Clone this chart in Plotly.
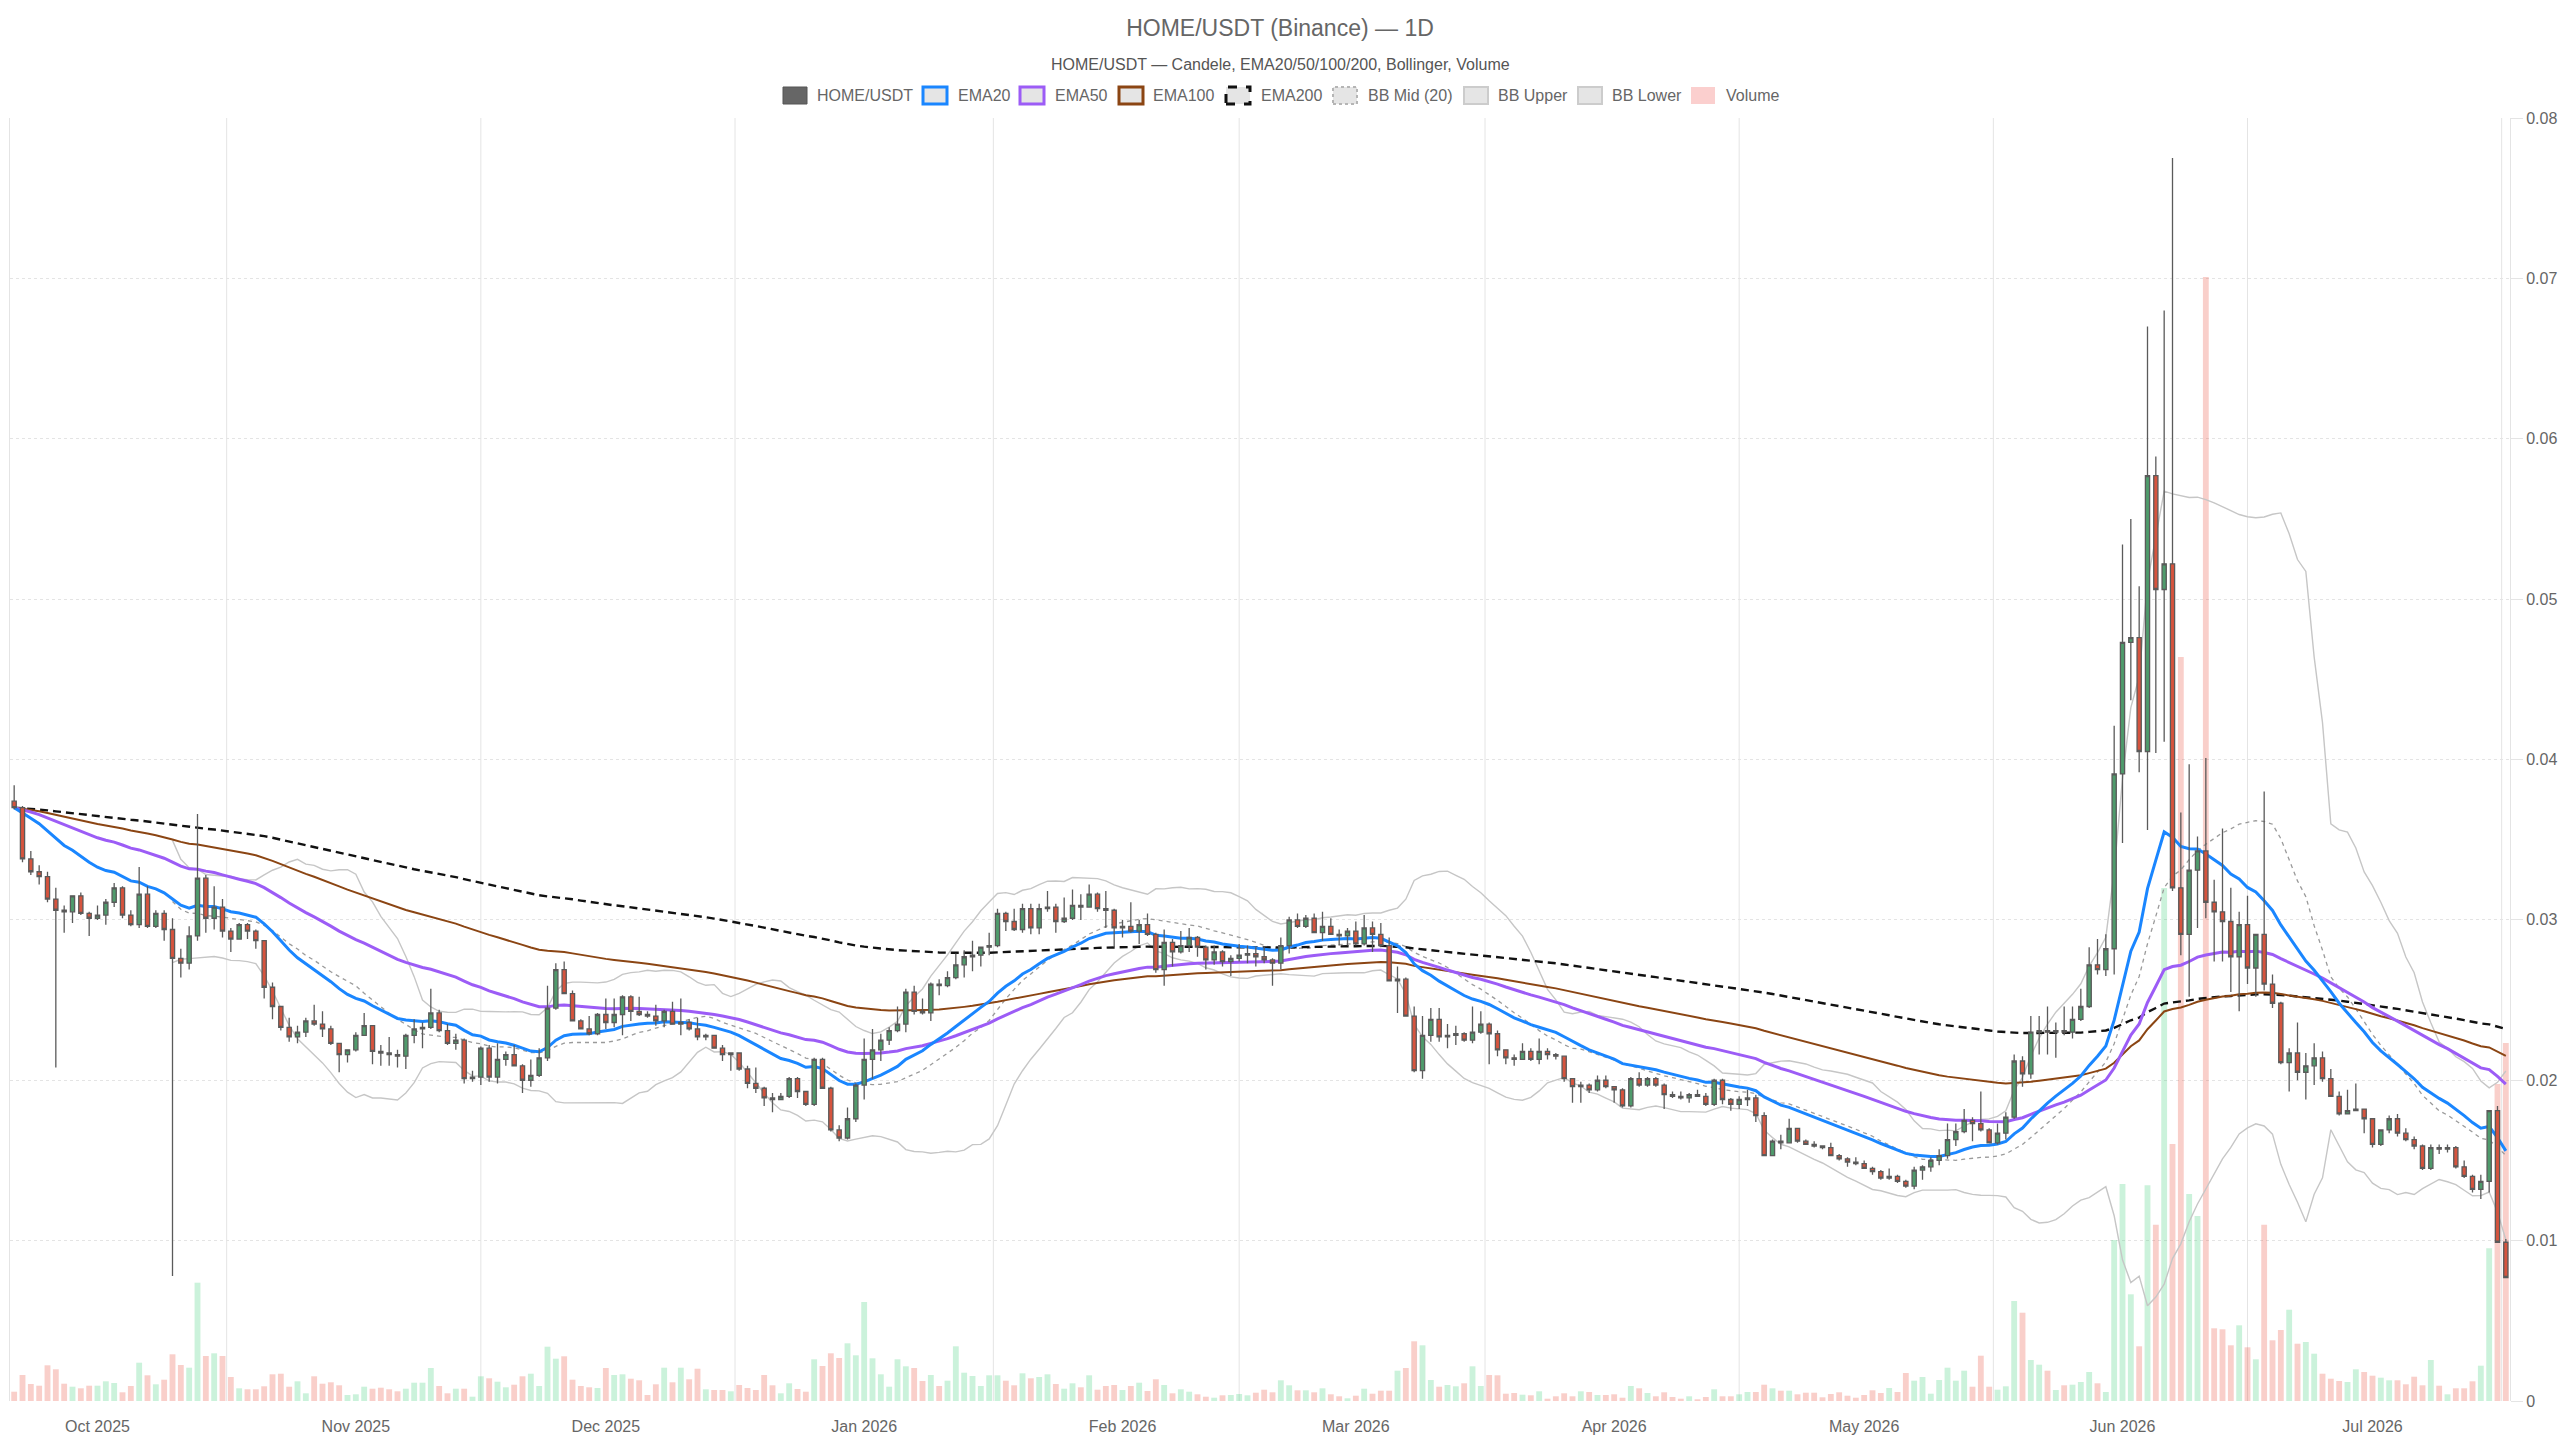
import pandas as pd
import plotly.graph_objects as go

# ---------------- data (daily candles) ----------------
START = "2025-09-21"

OPEN = [
    .0374, .0370, .0338, .0330, .0327, .0313, .0306, .0305, .0315, .0304,
    .0301, .0303, .0311, .0320, .0303, .0297, .0316, .0296, .0304, .0294,
    .0276, .0273, .0290, .0326, .0301, .0308, .0293, .0288, .0297, .0293,
    .0287, .0258, .0246, .0233, .0227, .0230, .0237, .0235, .0232, .0223,
    .0216, .0219, .0228, .0234, .0218, .0217, .0216, .0215, .0228, .0232,
    .0233, .0242, .0231, .0223, .0225, .0201, .0202, .0220, .0202, .0213,
    .0216, .0209, .0200, .0203, .0214, .0245, .0269, .0254, .0237, .0232,
    .0229, .0241, .0236, .0241, .0252, .0243, .0241, .0240, .0237, .0243,
    .0235, .0236, .0232, .0227, .0228, .0220, .0216, .0217, .0207, .0198,
    .0195, .0189, .0188, .0190, .0201, .0193, .0185, .0213, .0195, .0169,
    .0164, .0176, .0197, .0213, .0219, .0225, .0231, .0235, .0255, .0243,
    .0242, .0260, .0259, .0264, .0272, .0277, .0278, .0283, .0284, .0304,
    .0299, .0294, .0307, .0295, .0307, .0308, .0299, .0301, .0309, .0308,
    .0316, .0307, .0306, .0295, .0296, .0293, .0297, .0291, .0269, .0286,
    .0280, .0284, .0289, .0283, .0275, .0280, .0274, .0276, .0278, .0279,
    .0277, .0275, .0273, .0284, .0300, .0296, .0301, .0292, .0296, .0291,
    .0290, .0293, .0285, .0295, .0291, .0284, .0262, .0263, .0240, .0206,
    .0228, .0238, .0227, .0228, .0229, .0225, .0230, .0235, .0229, .0219,
    .0214, .0213, .0218, .0213, .0218, .0216, .0215, .0201, .0196, .0197,
    .0194, .0200, .0196, .0194, .0184, .0201, .0197, .0201, .0197, .0191,
    .0190, .0189, .0191, .0190, .0185, .0200, .0188, .0185, .0188, .0189,
    .0178, .0153, .0162, .0161, .0170, .0162, .0160, .0159, .0158, .0153,
    .0151, .0149, .0148, .0145, .0143, .0139, .0140, .0137, .0134, .0144,
    .0146, .0150, .0153, .0163, .0168, .0175, .0173, .0169, .0161, .0167,
    .0177, .0212, .0204, .0230, .0231, .0230, .0231, .0230, .0238, .0246,
    .0272, .0269, .0282, .0391, .0473, .0476, .0405, .0577, .0506, .0522,
    .0320, .0291, .0331, .0343, .0311, .0305, .0299, .0277, .0297, .0270,
    .0291, .0260, .0248, .0211, .0217, .0205, .0209, .0214, .0201, .0190,
    .0179, .0181, .0182, .0176, .0160, .0169, .0176, .0167, .0163, .0159,
    .0145, .0158, .0157, .0158, .0146, .0140, .0132, .0137, .0181, .0099,
]
HIGH = [
    .0384, .0371, .0343, .0334, .0330, .0320, .0309, .0315, .0317, .0305,
    .0309, .0313, .0323, .0321, .0306, .0333, .0321, .0306, .0306, .0301,
    .0282, .0296, .0366, .0328, .0321, .0313, .0295, .0298, .0298, .0294,
    .0287, .0261, .0246, .0239, .0234, .0239, .0247, .0243, .0234, .0223,
    .0219, .0230, .0242, .0234, .0222, .0227, .0219, .0229, .0238, .0236,
    .0257, .0244, .0235, .0229, .0226, .0206, .0221, .0222, .0223, .0218,
    .0222, .0210, .0213, .0220, .0259, .0273, .0274, .0256, .0238, .0240,
    .0242, .0251, .0251, .0253, .0253, .0252, .0243, .0247, .0244, .0249,
    .0251, .0238, .0239, .0229, .0228, .0222, .0217, .0217, .0209, .0208,
    .0196, .0192, .0192, .0202, .0202, .0193, .0214, .0214, .0196, .0172,
    .0183, .0198, .0226, .0232, .0229, .0233, .0246, .0257, .0259, .0251,
    .0261, .0263, .0268, .0279, .0281, .0287, .0283, .0292, .0307, .0305,
    .0307, .0310, .0310, .0310, .0318, .0310, .0314, .0319, .0316, .0322,
    .0317, .0318, .0307, .0300, .0311, .0300, .0304, .0292, .0294, .0288,
    .0293, .0295, .0290, .0284, .0284, .0281, .0278, .0285, .0284, .0283,
    .0283, .0276, .0289, .0302, .0304, .0303, .0304, .0305, .0301, .0294,
    .0295, .0299, .0303, .0299, .0298, .0289, .0271, .0264, .0246, .0240,
    .0245, .0245, .0235, .0234, .0230, .0246, .0243, .0236, .0231, .0219,
    .0216, .0223, .0220, .0226, .0220, .0217, .0215, .0201, .0199, .0198,
    .0203, .0203, .0196, .0195, .0202, .0205, .0202, .0202, .0198, .0193,
    .0193, .0192, .0194, .0192, .0201, .0201, .0189, .0190, .0194, .0191,
    .0180, .0163, .0166, .0176, .0170, .0163, .0162, .0159, .0161, .0154,
    .0152, .0152, .0150, .0146, .0144, .0145, .0141, .0138, .0146, .0147,
    .0152, .0157, .0173, .0173, .0182, .0177, .0193, .0170, .0173, .0180,
    .0216, .0215, .0240, .0240, .0246, .0236, .0246, .0246, .0257, .0283,
    .0288, .0291, .0421, .0534, .0550, .0508, .0670, .0589, .0680, .0775,
    .0367, .0397, .0352, .0401, .0325, .0357, .0320, .0305, .0315, .0291,
    .0380, .0266, .0249, .0220, .0236, .0217, .0223, .0218, .0207, .0193,
    .0194, .0198, .0182, .0176, .0169, .0178, .0179, .0170, .0165, .0160,
    .0160, .0160, .0160, .0159, .0150, .0141, .0141, .0181, .0184, .0101,
]
LOW = [
    .0369, .0336, .0328, .0322, .0311, .0208, .0292, .0298, .0303, .0290,
    .0300, .0297, .0308, .0301, .0296, .0295, .0295, .0295, .0287, .0078,
    .0264, .0269, .0287, .0292, .0294, .0289, .0280, .0288, .0288, .0282,
    .0251, .0238, .0231, .0224, .0223, .0227, .0234, .0227, .0222, .0205,
    .0211, .0218, .0228, .0210, .0209, .0209, .0208, .0207, .0223, .0220,
    .0232, .0230, .0222, .0219, .0198, .0199, .0197, .0199, .0198, .0209,
    .0209, .0192, .0196, .0202, .0212, .0244, .0254, .0237, .0232, .0228,
    .0228, .0232, .0233, .0228, .0237, .0240, .0239, .0234, .0233, .0235,
    .0228, .0231, .0225, .0225, .0220, .0212, .0206, .0206, .0195, .0192,
    .0184, .0180, .0188, .0189, .0189, .0184, .0184, .0195, .0168, .0162,
    .0163, .0174, .0188, .0201, .0212, .0222, .0230, .0230, .0241, .0241,
    .0237, .0253, .0258, .0263, .0264, .0268, .0271, .0278, .0283, .0293,
    .0293, .0292, .0291, .0291, .0305, .0292, .0298, .0300, .0300, .0308,
    .0305, .0295, .0283, .0289, .0292, .0285, .0290, .0267, .0259, .0271,
    .0279, .0280, .0277, .0269, .0272, .0271, .0265, .0274, .0273, .0271,
    .0273, .0259, .0269, .0279, .0295, .0295, .0292, .0287, .0291, .0284,
    .0284, .0284, .0284, .0280, .0283, .0262, .0242, .0240, .0205, .0201,
    .0224, .0224, .0220, .0222, .0224, .0223, .0229, .0210, .0215, .0210,
    .0209, .0213, .0212, .0210, .0213, .0213, .0199, .0186, .0186, .0192,
    .0193, .0195, .0186, .0183, .0183, .0196, .0196, .0196, .0182, .0189,
    .0188, .0186, .0190, .0184, .0184, .0185, .0181, .0182, .0184, .0174,
    .0153, .0153, .0157, .0161, .0161, .0160, .0158, .0157, .0153, .0150,
    .0146, .0147, .0145, .0141, .0138, .0138, .0136, .0133, .0132, .0138,
    .0143, .0147, .0151, .0159, .0167, .0162, .0168, .0161, .0160, .0163,
    .0176, .0196, .0201, .0216, .0216, .0214, .0228, .0226, .0237, .0245,
    .0266, .0265, .0266, .0348, .0437, .0392, .0356, .0404, .0411, .0318,
    .0278, .0252, .0295, .0301, .0274, .0274, .0255, .0243, .0260, .0252,
    .0256, .0245, .0210, .0193, .0200, .0188, .0197, .0199, .0190, .0178,
    .0179, .0181, .0167, .0158, .0159, .0167, .0165, .0162, .0157, .0144,
    .0144, .0154, .0155, .0145, .0139, .0130, .0126, .0130, .0099, .0077,
]
CLOSE = [
    .0370, .0338, .0330, .0327, .0313, .0306, .0305, .0315, .0304, .0301,
    .0303, .0311, .0320, .0303, .0297, .0316, .0296, .0304, .0294, .0276,
    .0273, .0290, .0326, .0301, .0308, .0293, .0288, .0297, .0293, .0287,
    .0258, .0246, .0233, .0227, .0230, .0237, .0235, .0232, .0223, .0216,
    .0219, .0228, .0234, .0218, .0217, .0216, .0215, .0228, .0232, .0233,
    .0242, .0231, .0223, .0225, .0201, .0202, .0220, .0202, .0213, .0216,
    .0209, .0200, .0203, .0214, .0245, .0269, .0254, .0237, .0232, .0229,
    .0241, .0236, .0241, .0252, .0243, .0241, .0240, .0237, .0243, .0235,
    .0236, .0232, .0227, .0228, .0220, .0216, .0217, .0207, .0198, .0195,
    .0189, .0188, .0190, .0201, .0193, .0185, .0213, .0195, .0169, .0164,
    .0176, .0197, .0213, .0219, .0225, .0231, .0235, .0255, .0243, .0242,
    .0260, .0259, .0264, .0272, .0277, .0278, .0283, .0284, .0304, .0299,
    .0294, .0307, .0295, .0307, .0308, .0299, .0301, .0309, .0308, .0316,
    .0307, .0306, .0295, .0296, .0293, .0297, .0291, .0269, .0286, .0280,
    .0284, .0289, .0283, .0275, .0280, .0274, .0276, .0278, .0279, .0277,
    .0275, .0273, .0284, .0300, .0296, .0301, .0292, .0296, .0291, .0290,
    .0293, .0285, .0295, .0291, .0284, .0262, .0263, .0240, .0206, .0228,
    .0238, .0227, .0228, .0229, .0225, .0230, .0235, .0229, .0219, .0214,
    .0213, .0218, .0213, .0218, .0216, .0215, .0201, .0196, .0197, .0194,
    .0200, .0196, .0194, .0184, .0201, .0197, .0201, .0197, .0191, .0190,
    .0189, .0191, .0190, .0185, .0200, .0188, .0185, .0188, .0189, .0178,
    .0153, .0162, .0161, .0170, .0162, .0160, .0159, .0158, .0153, .0151,
    .0149, .0148, .0145, .0143, .0139, .0140, .0137, .0134, .0144, .0146,
    .0150, .0153, .0163, .0168, .0175, .0173, .0169, .0161, .0167, .0177,
    .0212, .0204, .0230, .0231, .0230, .0231, .0230, .0238, .0246, .0272,
    .0269, .0282, .0391, .0473, .0476, .0405, .0577, .0506, .0522, .0320,
    .0291, .0331, .0343, .0311, .0305, .0299, .0277, .0297, .0270, .0291,
    .0260, .0248, .0211, .0217, .0205, .0209, .0214, .0201, .0190, .0179,
    .0181, .0182, .0176, .0160, .0169, .0176, .0167, .0163, .0159, .0145,
    .0158, .0157, .0158, .0146, .0140, .0132, .0137, .0181, .0099, .0077,
]
VOLUME = [  # relative units (hidden axis)
    9.3, 26, 17, 15.3, 35.7, 31.7, 17.3, 14.3, 12.7, 15.3,
    15.3, 19.7, 18, 8.7, 15, 38.3, 25.7, 16.7, 21.3, 46.7,
    36, 33.3, 118.3, 45, 47.7, 45, 24, 12.7, 11.7, 11.7,
    14.7, 26.7, 27.3, 14.3, 19.7, 7.7, 24.7, 17.3, 18.7, 15.7,
    6, 6.7, 14.3, 12.3, 13.3, 11.7, 9.7, 12.3, 18.3, 18.3,
    33, 15, 7.7, 12.3, 12.3, 4.3, 24.7, 22.7, 19.3, 13.7,
    16.3, 24.7, 27.3, 15, 54.3, 42.3, 44.7, 21.3, 15, 13.7,
    13, 33, 26, 26.7, 22.3, 20.7, 6, 16.7, 33.3, 18.7,
    33.3, 21.7, 32.3, 11.7, 11, 11, 9.7, 16, 13, 11,
    26, 15.7, 7.7, 17.7, 12, 9.3, 41.7, 35, 47.7, 43,
    57.7, 45.7, 99, 42.7, 26.7, 14.3, 41.7, 34.7, 33, 20,
    26, 15, 20.3, 54.7, 28.3, 25, 15, 25.7, 25.7, 20.3,
    15.7, 27.7, 22.7, 24, 26.7, 17, 12.3, 17.7, 13.7, 25.7,
    11.3, 15, 16, 11, 15, 18.3, 10, 21.7, 16, 7.7,
    11.7, 9.3, 6.7, 4.3, 3.3, 5.7, 6, 7, 5.7, 8.3,
    11.3, 8.7, 20.7, 15.7, 10.7, 10.7, 8.7, 12.7, 6.7, 4.7,
    2.7, 5.3, 12.3, 7.3, 10.3, 10.3, 30.3, 33, 59.7, 55.7,
    21, 14.3, 16, 14.7, 17.7, 34.7, 15, 26, 25.7, 7.3,
    8, 6.3, 5.7, 9.7, 2.3, 4.7, 7.7, 4.7, 9.7, 9,
    6, 6, 6.7, 3.3, 15, 12.7, 8, 4.7, 8.7, 4,
    2.3, 4.7, 1.7, 4, 11.7, 4.7, 4.7, 6.7, 9, 9,
    16.3, 12.7, 10.3, 10.3, 6.7, 8.3, 8.3, 3.7, 7, 8.7,
    5.3, 3.3, 6, 10.7, 8, 13, 9, 28, 20.3, 24,
    7.3, 21, 33.3, 20.3, 30.3, 14.3, 45.3, 14.3, 11.3, 14.7,
    100, 88.3, 41, 36.3, 30.3, 11, 15.7, 16.3, 19, 29,
    17.7, 9, 161, 217, 106.7, 54.7, 215.7, 176.3, 513, 257,
    744, 207, 185, 1124, 72.7, 71.7, 55.7, 75.7, 53.7, 41.7,
    176.3, 60.7, 71, 91.3, 57.3, 59, 47.3, 27.3, 22.3, 20,
    19, 31.7, 29, 25.3, 23.3, 20.7, 20.7, 16.7, 24.3, 15.7,
    41, 15.3, 6.7, 12.7, 12.7, 19.7, 35.3, 152.7, 317, 358,
]
VOLUME_AXIS_MAX = 1283
PRICE_RANGE = [0, 0.08]
MONTH_TICKS = ["2025-10-01", "2025-11-01", "2025-12-01", "2026-01-01", "2026-02-01",
               "2026-03-01", "2026-04-01", "2026-05-01", "2026-06-01", "2026-07-01"]

TITLE = "HOME/USDT (Binance) — 1D"
SUBTITLE = "HOME/USDT — Candele, EMA20/50/100/200, Bollinger, Volume"

# ---------------- derived series ----------------
dates = pd.date_range(START, periods=len(CLOSE), freq="D")
close = pd.Series(CLOSE)
ema = {n: close.ewm(span=n, adjust=False).mean() for n in (20, 50, 100, 200)}
bb_mid = close.rolling(20).mean()
bb_sd = close.rolling(20).std(ddof=0)
bb_up = bb_mid + 2 * bb_sd
bb_lo = bb_mid - 2 * bb_sd

# ---------------- styles ----------------
FONT = "Liberation Sans, Arial, Helvetica, sans-serif"
TXT = "#666666"
GREEN = "#4f9b6c"
RED = "#d6543e"
WICK = "#5a5a5a"
VOL_G = "rgba(46,204,113,0.25)"
VOL_R = "rgba(231,76,60,0.27)"
C_EMA20 = "#1a86ff"
C_EMA50 = "#9c5cf6"
C_EMA100 = "#8b4513"
C_EMA200 = "#111111"
C_BBMID = "#9a9a9a"
C_BAND = "#c6c6c6"
GRID = "#e4e4e4"

fig = go.Figure()

vol_colors = [VOL_G if c >= o else VOL_R for o, c in zip(OPEN, CLOSE)]
fig.add_trace(go.Bar(x=dates, y=VOLUME, marker=dict(color=vol_colors, line_width=0),
                     yaxis="y", name="Volume", hoverinfo="skip"))

def line(y, color, width, dash=None, name=""):
    return go.Scatter(x=dates, y=y, mode="lines", yaxis="y2", name=name,
                      line=dict(color=color, width=width, dash=dash), hoverinfo="skip")

fig.add_trace(line(bb_lo, C_BAND, 1.4, name="BB Lower"))
fig.add_trace(line(bb_up, C_BAND, 1.4, name="BB Upper"))
fig.add_trace(line(bb_mid, C_BBMID, 1.3, dash="4px,4px", name="BB Mid (20)"))
fig.add_trace(line(ema[200], C_EMA200, 2.4, dash="8px,5px", name="EMA200"))
fig.add_trace(line(ema[100], C_EMA100, 2, name="EMA100"))
fig.add_trace(line(ema[50], C_EMA50, 3, name="EMA50"))
fig.add_trace(line(ema[20], C_EMA20, 3, name="EMA20"))

fig.add_trace(go.Candlestick(
    x=dates, open=OPEN, high=HIGH, low=LOW, close=CLOSE, yaxis="y3", name="HOME/USDT",
    whiskerwidth=0,
    increasing=dict(line=dict(color=WICK, width=1.3), fillcolor=GREEN),
    decreasing=dict(line=dict(color=WICK, width=1.3), fillcolor=RED),
))

# ---------------- layout geometry ----------------
ML, MR, MT, MB = 10, 50, 118, 39
W, H = 2560, 1440
PW, PH = W - ML - MR, H - MT - MB

def px_x(p):
    return (p - ML) / PW

def px_y(p):
    return (H - MB - p) / PH

half_day = pd.Timedelta(hours=12)
ms = pd.date_range("2025-10-01", "2026-08-01", freq="MS")
mids = ms[:-1] + (ms[1:] - ms[:-1]) / 2

shapes = []
for m in mids:
    shapes.append(dict(type="line", xref="x", yref="paper", x0=m, x1=m, y0=0, y1=1,
                       line=dict(color=GRID, width=1), layer="below"))

# custom legend (box + label), positions follow the reference layout
LEGEND = [
    ("HOME/USDT", 783, 815, dict(fill="#666666", line="#555555", w=1, dash=None)),
    ("EMA20", 923, 956, dict(fill="rgba(0,0,0,0.1)", line=C_EMA20, w=3, dash=None)),
    ("EMA50", 1020, 1053, dict(fill="rgba(0,0,0,0.1)", line=C_EMA50, w=3, dash=None)),
    ("EMA100", 1119, 1151, dict(fill="rgba(0,0,0,0.1)", line=C_EMA100, w=3, dash=None)),
    ("EMA200", 1226, 1259, dict(fill="rgba(0,0,0,0.1)", line=C_EMA200, w=3, dash="dash")),
    ("BB Mid (20)", 1333, 1366, dict(fill="rgba(0,0,0,0.1)", line="#b5b5b5", w=2, dash="dot")),
    ("BB Upper", 1464, 1496, dict(fill="rgba(0,0,0,0.1)", line="#cccccc", w=2, dash=None)),
    ("BB Lower", 1578, 1610, dict(fill="rgba(0,0,0,0.1)", line="#cccccc", w=2, dash=None)),
    ("Volume", 1691, 1724, dict(fill="rgba(239,83,80,0.28)", line="rgba(0,0,0,0)", w=0, dash=None)),
]
annotations = []
BOX_W, BOX_T, BOX_B, LEG_Y = 24, 87, 104, 95.5
for label, bx, tx, st in LEGEND:
    shapes.append(dict(type="rect", xref="paper", yref="paper",
                       x0=px_x(bx), x1=px_x(bx + BOX_W), y0=px_y(BOX_B), y1=px_y(BOX_T),
                       fillcolor=st["fill"],
                       line=dict(color=st["line"], width=st["w"], dash=st["dash"]),
                       layer="above"))
    annotations.append(dict(text=label, xref="paper", yref="paper", x=px_x(tx), y=px_y(LEG_Y),
                            xanchor="left", yanchor="middle", showarrow=False,
                            font=dict(family=FONT, size=16, color=TXT)))

annotations.append(dict(text=SUBTITLE, xref="paper", yref="paper", x=px_x(1280), y=px_y(64),
                        xanchor="center", yanchor="middle", showarrow=False,
                        font=dict(family=FONT, size=16, color="#555555")))

fig.update_layout(
    width=W, height=H, autosize=False,
    margin=dict(l=ML, r=MR, t=MT, b=MB, pad=0, autoexpand=False),
    paper_bgcolor="white", plot_bgcolor="white",
    font=dict(family=FONT, size=16, color=TXT),
    title=dict(text=TITLE, x=0.5, xanchor="center", xref="container",
               y=1 - 28 / H, yanchor="middle", yref="container",
               font=dict(family=FONT, size=23, color=TXT)),
    showlegend=False,
    bargap=0.3, boxgap=0.28,
    shapes=shapes, annotations=annotations,
    xaxis=dict(type="date", range=[dates[0] - half_day, dates[-1] + half_day],
               tickmode="array", tickvals=pd.to_datetime(MONTH_TICKS), tickformat="%b %Y",
               showgrid=False, zeroline=False, showline=False, ticks="",
               ticklabelstandoff=14, automargin=False,
               tickfont=dict(family=FONT, size=16, color=TXT),
               rangeslider=dict(visible=False)),
    yaxis=dict(range=[0, VOLUME_AXIS_MAX], visible=False, showgrid=False, fixedrange=True),
    yaxis2=dict(overlaying="y", side="right", range=PRICE_RANGE, dtick=0.01, tick0=0,
                showgrid=True, gridcolor=GRID, griddash="dot", gridwidth=1,
                zeroline=False, showline=True, linecolor=GRID, linewidth=1, mirror=True,
                ticks="outside", ticklen=12, tickcolor=GRID, automargin=False,
                tickfont=dict(family=FONT, size=16, color=TXT)),
    yaxis3=dict(overlaying="y", range=PRICE_RANGE, visible=False, showgrid=False),
)

fig.write_html("out.html")
